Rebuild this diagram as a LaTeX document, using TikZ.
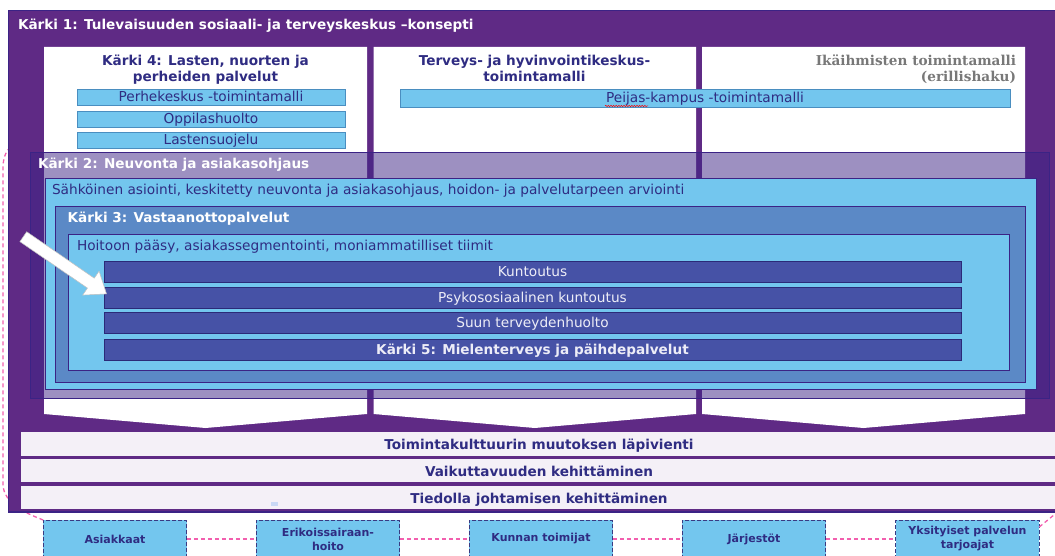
\documentclass[tikz,border=0pt]{standalone}
\usepackage{fontspec}
\setmainfont{DejaVu Sans}
\newfontfamily\serifbf{DejaVu Serif}
\usetikzlibrary{decorations.pathmorphing}
\definecolor{kpurple}{HTML}{5F2A85}
\definecolor{kborder}{HTML}{3B2385}
\definecolor{ktwofill}{HTML}{3C2385}
\definecolor{klb}{HTML}{73C6EE}
\definecolor{kmid}{HTML}{5B89C6}
\definecolor{kbar}{HTML}{4652A6}
\definecolor{kbarborder}{HTML}{2B2A78}
\definecolor{kbartext}{HTML}{EDEDF7}
\definecolor{ktext}{HTML}{2F2C82}
\definecolor{kband}{HTML}{F4F0F7}
\definecolor{kpink}{HTML}{F25FAE}
\definecolor{kgray}{HTML}{787878}
\definecolor{kcolborder}{HTML}{4A8EC0}
\definecolor{kdash}{HTML}{3A3A82}
\definecolor{kart}{HTML}{C9D8F5}
\begin{document}
\begin{tikzpicture}[x=1pt,y=-1pt,
  every node/.style={inner sep=0pt, outer sep=0pt, font=\fontsize{13.7}{16}\selectfont},
  boldtxt/.style={font=\fontsize{13.6}{16}\selectfont\bfseries},
  hdr/.style={anchor=base, boldtxt, text=ktext},
  lefttxt/.style={anchor=base west},
  container/.style={draw=kborder, line width=0.8pt},
  colbox/.style={draw=kcolborder, fill=klb, text=ktext, minimum height=16, text height=9.6, text depth=0pt, line width=0.8pt},
  bar/.style={draw=kbarborder, fill=kbar, text=kbartext, minimum width=857, minimum height=21, text height=9.6, text depth=0pt, line width=0.8pt},
  bandtext/.style={anchor=base, boldtxt, text=ktext},
  stake/.style={draw=kdash, dash pattern=on 4pt off 2pt, fill=klb, minimum width=143.5, minimum height=38, text=ktext, font=\fontsize{11}{14}\selectfont\bfseries, align=center, line width=0.8pt},
  pinkdash/.style={draw=kpink, dash pattern=on 4pt off 3pt, line width=1.3pt},
  whitearrow/.style={fill=white, draw=black!25, line width=0.5pt}
]
\useasboundingbox (0,0) rectangle (1055,556);
\clip (0,0) rectangle (1055,556);

% bottom stakeholder boxes
\node[stake] (asi) at (115,539) {Asiakkaat};
\node[stake] (eri) at (328,539) {Erikoissairaan-\\hoito};
\node[stake] (kun) at (541,539) {Kunnan toimijat};
\node[stake] (jar) at (754,539) {Järjestöt};
\node[stake] (yks) at (967.5,539) {Yksityiset palvelun\\tarjoajat};
\draw[pinkdash] (asi) -- (eri);
\draw[pinkdash] (eri) -- (kun);
\draw[pinkdash] (kun) -- (jar);
\draw[pinkdash] (jar) -- (yks);
\coordinate (pinkTop) at (12,146);
\coordinate (pinkRight) at (1060,510);
\draw[pinkdash] (asi.north west) .. controls (25,513) and (4,503) .. (3,485) -- (3,168) .. controls (3,158) and (6,150) .. (pinkTop);
\draw[pinkdash] ([yshift=-7pt]yks.north east) -- (pinkRight);

% outer purple frame (Kärki 1)
\draw[fill=kpurple, draw=kborder, line width=1.5pt] (8.5,10.5) rectangle (1070,512);
\node[lefttxt, boldtxt, text=white] (k1) at (18,29.3) {Kärki 1: Tulevaisuuden sosiaali- ja terveyskeskus –konsepti};

% white columns
\fill[white] (44,47) -- (367,47) -- (367,414) -- (205.5,428) -- (44,414) -- cycle;
\fill[white] (373.6,47) -- (696,47) -- (696,414) -- (534.8,428) -- (373.6,414) -- cycle;
\fill[white] (702,47) -- (1025,47) -- (1025,414) -- (863.5,428) -- (702,414) -- cycle;

% column 1
\node[hdr] (h4a) at (205.5,65.7) {Kärki 4: Lasten, nuorten ja};
\node[hdr] (h4b) at (205.5,81.7) {perheiden palvelut};
\node[colbox, minimum width=268] (perhe) at (211,97) {Perhekeskus -toimintamalli};
\node[colbox, minimum width=268] (oppi) at (211,119) {Oppilashuolto};
\node[colbox, minimum width=268] (last) at (211,140) {Lastensuojelu};

% column 2
\node[hdr] (hta) at (534.5,65.7) {Terveys- ja hyvinvointikeskus-};
\node[hdr] (htb) at (534.5,81.5) {toimintamalli};
\node[colbox, minimum width=610, minimum height=18] (peijas) at (705,98) {Peijas-kampus -toimintamalli};
\draw[red, line width=0.5pt, decorate, decoration={snake, amplitude=0.7pt, segment length=2.6pt}] (605,106) -- (648,106);

% column 3
\node[anchor=base east, text=kgray, font=\fontsize{13.6}{16}\serifbf\bfseries] (ika) at (1016,65.7) {Ikäihmisten toimintamalli};
\node[anchor=base east, text=kgray, font=\fontsize{13.6}{16}\serifbf\bfseries] (ikb) at (1016,81.5) {(erillishaku)};

% Kärki 2
\draw[container, fill=ktwofill, fill opacity=0.5] (30,152) rectangle (1049,398);
\node[lefttxt, boldtxt, text=white] (k2) at (38,169) {Kärki 2: Neuvonta ja asiakasohjaus};
\draw[container, fill=klb] (45,178) rectangle (1036,389);
\node[lefttxt, text=ktext] (sahk) at (52,195) {Sähköinen asiointi, keskitetty neuvonta ja asiakasohjaus, hoidon- ja palvelutarpeen arviointi};

% Kärki 3
\draw[container, fill=kmid] (55,206) rectangle (1025.5,382);
\node[lefttxt, boldtxt, text=white] (k3) at (67.6,223) {Kärki 3: Vastaanottopalvelut};
\draw[container, fill=klb] (68.6,234) rectangle (1009,370);
\node[lefttxt, text=ktext] (hoit) at (77,251) {Hoitoon pääsy, asiakassegmentointi, moniammatilliset tiimit};

% bars
\node[bar] (kunt) at (532.5,271.5) {Kuntoutus};
\node[bar] (psyk) at (532.5,297.5) {Psykososiaalinen kuntoutus};
\node[bar] (suun) at (532.5,322.5) {Suun terveydenhuolto};
\node[bar, boldtxt] (k5) at (532.5,349.5) {Kärki 5: Mielenterveys ja päihdepalvelut};

% white arrow
\draw[whitearrow, shift={(23.3,236.7)}, rotate=-34.5] (0,-6) -- (82,-6) -- (82,-14.5) -- (101,0) -- (82,14.5) -- (82,6) -- (0,6) -- cycle;

% bottom bands
\fill[kband] (21,432) rectangle (1060,456);
\fill[kband] (21,459) rectangle (1060,482);
\fill[kband] (21,486) rectangle (1060,509);
\node[bandtext] (b1) at (539,449.5) {Toimintakulttuurin muutoksen läpivienti};
\node[bandtext] (b2) at (539,476) {Vaikuttavuuden kehittäminen};
\node[bandtext] (b3) at (539,503) {Tiedolla johtamisen kehittäminen};
\fill[kart] (271,502) rectangle (278,506);
\end{tikzpicture}
\end{document}
